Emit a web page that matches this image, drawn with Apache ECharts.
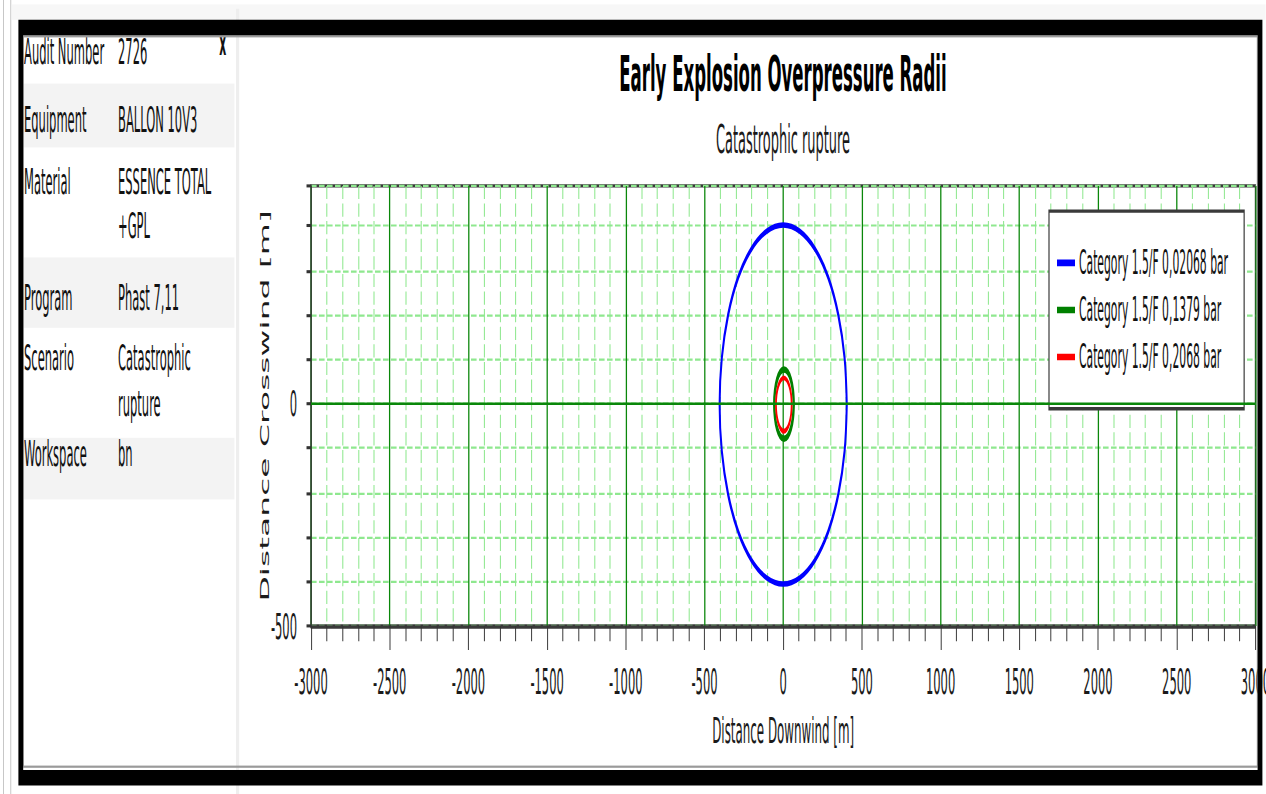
<!DOCTYPE html>
<html>
<head>
<meta charset="utf-8">
<title>Early Explosion Overpressure Radii</title>
<script src="https://cdn.jsdelivr.net/npm/echarts@6/dist/echarts.min.js"></script>
<style>
  html, body { margin: 0; padding: 0; background: #fff; overflow: hidden; }
  /* the reference is a squeezed screenshot: draw the page flat and wide, then scale it */
  #page { position: absolute; left: 0; top: 0; width: 1582.5px; height: 361px; transform: scale(0.8, 2.2); transform-origin: 0 0; }
  #chart { position: absolute; left: 0; top: 0; width: 1582.5px; height: 361px; }
  .vline { position: absolute; top: 0; width: 1.25px; height: 361px; background: #b9b9b9; }
  #topstrip { position: absolute; left: 15px; top: 2.3px; width: 1567px; height: 6.8px; background: #f7f7f7; }
  #panelEdge { position: absolute; left: 295px; top: 4px; width: 3.75px; height: 357px; background: #eeeeee; }
  #panel { position: absolute; left: 0; top: 0; width: 300px; height: 361px;
           font-family: 'DejaVu Sans Condensed', 'Liberation Sans Narrow', sans-serif;
           font-size: 16px; color: #111; }
  .band { position: absolute; left: 28.75px; width: 263.75px; background: #f3f3f3; }
  .cell { position: absolute; line-height: 20px; height: 20px; white-space: nowrap; }
  #frame { position: absolute; left: 22.5px; top: 9.1px; width: 1555.9px; height: 347.7px; box-sizing: border-box;
           border-style: solid; border-color: #000; border-width: 7.3px 6.25px 7.3px 6.25px; }
  #frameInner { position: absolute; left: 28.75px; top: 16.4px; width: 1543.4px; height: 333.1px; box-sizing: border-box;
                border: 0.6px solid #9a9a9a; }
</style>
</head>
<body>
<div id="page">
  <div class="vline" style="left:3.75px"></div>
  <div class="vline" style="left:12.5px"></div>
  <div id="topstrip"></div>
  <div id="panelEdge"></div>
  <div id="chart"></div>
  <div id="panel">
    <div class="band" style="top:37.7px;height:29.6px"></div>
    <div class="band" style="top:116.8px;height:31.8px"></div>
    <div class="band" style="top:198.6px;height:28.7px"></div>
    <div class="cell" style="left:30px;top:13.8px">Audit Number</div>
    <div class="cell" style="left:147.5px;top:13.8px">2726</div>
    <div class="cell" style="left:274px;top:9.5px;font-weight:bold;font-size:15px">x</div>
    <div class="cell" style="left:30px;top:45px">Equipment</div>
    <div class="cell" style="left:147.5px;top:45px">BALLON 10V3</div>
    <div class="cell" style="left:30px;top:72.6px">Material</div>
    <div class="cell" style="left:147.5px;top:72.6px">ESSENCE TOTAL</div>
    <div class="cell" style="left:147.5px;top:93.4px">+GPL</div>
    <div class="cell" style="left:30px;top:126px">Program</div>
    <div class="cell" style="left:147.5px;top:126px">Phast 7,11</div>
    <div class="cell" style="left:30px;top:152.5px">Scenario</div>
    <div class="cell" style="left:147.5px;top:152.5px">Catastrophic</div>
    <div class="cell" style="left:147.5px;top:173.6px">rupture</div>
    <div class="cell" style="left:30px;top:196.8px">Workspace</div>
    <div class="cell" style="left:147.5px;top:196.8px">bn</div>
  </div>
  <div id="frameInner"></div>
  <div id="frame"></div>
</div>
<script>
// legend entries, one per contour
const seriesNames = [
  'Category 1.5/F 0,02068 bar',
  'Category 1.5/F 0,1379 bar',
  'Category 1.5/F 0,2068 bar'
]
const seriesColors = ['#0000ff', '#008000', '#ff0000']

// contour points [downwind m, crosswind m]
const blueContour = [
  [404, -2], [390, 103], [350, 200], [286, 284], [202, 348], [105, 388], [0, 402],
  [-105, 388], [-202, 348], [-286, 284], [-350, 200], [-390, 103], [-404, -2],
  [-390, -107], [-350, -204], [-286, -288], [-202, -352], [-105, -392], [0, -406],
  [105, -392], [202, -352], [286, -288], [350, -204], [390, -107], [404, -2]
]
const greenContour = [
  [67, -1], [62, 29], [49, 54], [29, 71], [5, 77], [-19, 71], [-39, 54], [-52, 29],
  [-57, -1], [-52, -31], [-39, -56], [-19, -73], [5, -79], [29, -73], [49, -56],
  [62, -31], [67, -1]
]
const redContour = [
  [54, -2], [50, 21], [39, 40], [23, 53], [4, 58], [-15, 53], [-31, 40], [-42, 21],
  [-46, -2], [-42, -25], [-31, -44], [-15, -57], [4, -62], [23, -57], [39, -44],
  [50, -25], [54, -2]
]

const xExtent = [-3000, 3000]
const yExtent = [-500, 490]
const yLabelValues = [-500, 0]

const NARROW = "'DejaVu Sans Condensed', 'Liberation Sans Narrow', sans-serif"

function contourSeries (name, data, color, width, withZeroLine) {
  const s = {
    name: name,
    type: 'line',
    data: data,
    smooth: 0.35,
    showSymbol: false,
    symbol: 'none',
    lineStyle: { color: color, width: width },
    itemStyle: { color: color }
  }
  if (withZeroLine) {
    // the solid green line along crosswind 0
    s.markLine = {
      silent: true,
      symbol: 'none',
      label: { show: false },
      lineStyle: { color: '#0a870a', type: 'solid', width: 1.2 },
      data: [{ yAxis: 0 }]
    }
  }
  return s
}

const myChart = echarts.init(document.getElementById('chart'), null, { renderer: 'svg' })
myChart.setOption({
  animation: false,
  backgroundColor: 'transparent',
  title: {
    text: 'Early Explosion Overpressure Radii',
    subtext: 'Catastrophic rupture',
    left: 978.75,
    top: 22,
    textAlign: 'center',
    padding: 0,
    itemGap: 9,
    textStyle: { fontFamily: NARROW, fontSize: 23, fontWeight: 'bold', color: '#000' },
    subtextStyle: { fontFamily: NARROW, fontSize: 18, color: '#1a1a1a' }
  },
  legend: {
    orient: 'vertical',
    left: 1311.25,
    top: 96,
    data: seriesNames,
    icon: 'rect',
    itemWidth: 22.5,
    itemHeight: 3,
    itemGap: 6.4,
    padding: [16, 20, 16, 10],
    backgroundColor: '#fff',
    borderColor: '#3a3a3a',
    borderWidth: 1.5,
    textStyle: { fontFamily: NARROW, fontSize: 15, color: '#111' }
  },
  grid: {
    left: 388.75,
    right: 13.75,
    top: 84.5,
    bottom: 76.5,
    outerBoundsMode: 'none',
    show: true,
    backgroundColor: '#fff',
    borderColor: '#3a3a3a',
    borderWidth: 1.5
  },
  xAxis: {
    type: 'value',
    min: xExtent[0],
    max: xExtent[1],
    interval: 500,
    name: 'Distance Downwind [m]',
    nameLocation: 'middle',
    nameGap: 39,
    nameMoveOverlap: false,
    nameTextStyle: { fontFamily: NARROW, fontSize: 16.5, color: '#1a1a1a' },
    axisLine: { show: true, onZero: false, lineStyle: { color: '#3a3a3a', width: 1.5 } },
    axisTick: { show: true, length: 11, lineStyle: { color: '#333', width: 1.2 } },
    minorTick: { show: true, splitNumber: 5, length: 7, lineStyle: { color: '#333', width: 1.2 } },
    axisLabel: { margin: 17, fontFamily: NARROW, fontSize: 16, color: '#1a1a1a', formatter: v => String(v) },
    splitLine: { show: true, lineStyle: { color: '#0a870a', width: 1.6 } },
    minorSplitLine: { show: true, lineStyle: { color: '#8fe88f', width: 1.3, type: [6, 2] } }
  },
  yAxis: {
    type: 'value',
    min: yExtent[0],
    max: yExtent[1],
    interval: 100,
    name: 'Distance Crosswind [m]',
    nameLocation: 'middle',
    nameRotate: 90,
    nameGap: 50,
    nameMoveOverlap: false,
    nameTextStyle: { fontFamily: 'DejaVu Sans', fontSize: 15, color: '#1a1a1a' },
    axisLine: { show: true, onZero: false, lineStyle: { color: '#3a3a3a', width: 1.5 } },
    axisTick: { show: true, length: 5.6, lineStyle: { color: '#333', width: 1.4 } },
    axisLabel: {
      margin: 17.5,
      fontFamily: NARROW,
      fontSize: 16,
      color: '#1a1a1a',
      formatter: v => (yLabelValues.indexOf(v) >= 0 ? String(v) : '')
    },
    splitLine: { show: true, lineStyle: { color: '#8fe88f', width: 1, type: [7, 3] } }
  },
  series: [
    contourSeries(seriesNames[0], blueContour, seriesColors[0], 2.5, true),
    contourSeries(seriesNames[1], greenContour, seriesColors[1], 3, false),
    contourSeries(seriesNames[2], redContour, seriesColors[2], 2.2, false)
  ]
})
</script>
</body>
</html>
